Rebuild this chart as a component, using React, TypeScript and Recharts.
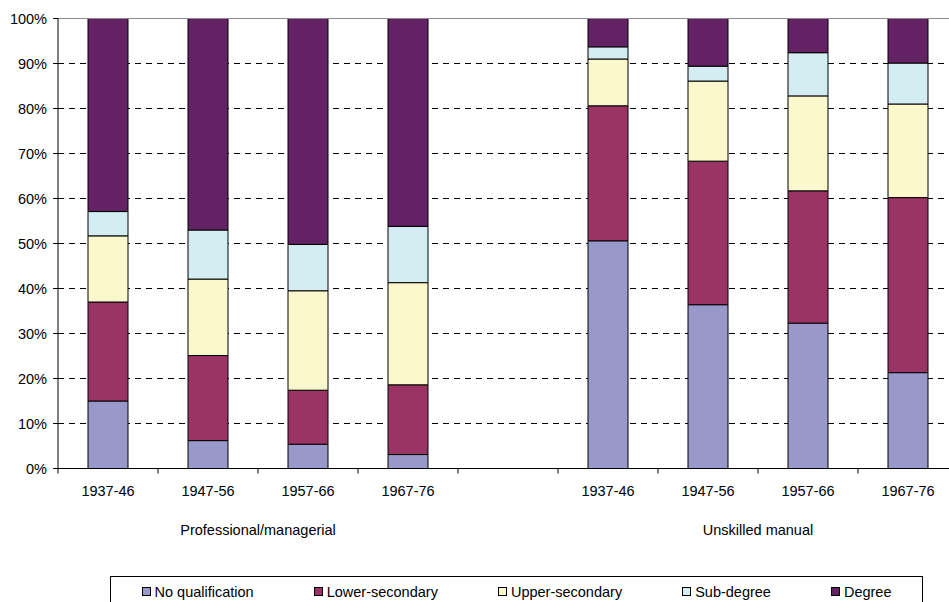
import { BarChart, Bar, XAxis, YAxis, CartesianGrid, Legend, ReferenceLine } from 'recharts';

const FONT = '"Liberation Sans", Arial, Helvetica, sans-serif';

// Birth cohorts, repeated for each occupational class
const COHORTS = ['1937-46', '1947-56', '1957-66', '1967-76'];
const GROUPS = ['Professional/managerial', 'Unskilled manual'];

// Share (%) holding each highest qualification:
// four professional/managerial cohorts, then four unskilled manual cohorts
const NO_QUAL = [15.0, 6.2, 5.4, 3.1, 50.6, 36.4, 32.3, 21.3];
const LOWER_SEC = [22.0, 18.9, 12.0, 15.5, 30.0, 31.9, 29.4, 38.9];
const UPPER_SEC = [14.7, 17.0, 22.1, 22.7, 10.4, 17.8, 21.1, 20.8];
const SUB_DEGREE = [5.4, 10.9, 10.3, 12.5, 2.7, 3.3, 9.6, 9.1];
const DEGREE = [42.9, 47.0, 50.2, 46.2, 6.3, 10.6, 7.6, 9.9];

const Y_TICKS = [0, 10, 20, 30, 40, 50, 60, 70, 80, 90, 100];

const SERIES = [
    { key: 'noQual', name: 'No qualification', color: '#9898CB', values: NO_QUAL },
    { key: 'lowerSec', name: 'Lower-secondary', color: '#9A3465', values: LOWER_SEC },
    { key: 'upperSec', name: 'Upper-secondary', color: '#FBF8CD', values: UPPER_SEC },
    { key: 'subDegree', name: 'Sub-degree', color: '#D4EDF3', values: SUB_DEGREE },
    { key: 'degree', name: 'Degree', color: '#622263', values: DEGREE },
];

// Build rows: 4 professional cohorts, an empty spacer slot, 4 unskilled cohorts
type Row = Record<string, any>;
const rows: Row[] = [];
GROUPS.forEach((group, g) => {
    if (g > 0) rows.push({ key: 'gap', label: '' });
    COHORTS.forEach((cohort, c) => {
        const i = g * COHORTS.length + c;
        const row: Row = { key: `${g}-${cohort}`, label: cohort };
        // group caption sits between the 2nd and 3rd cohort of each block
        if (c === 1) row.group = group;
        SERIES.forEach(s => {
            row[s.key] = s.values[i];
        });
        rows.push(row);
    });
});

const CHART_W = 1000;
const CHART_H = 602;
const MARGIN = { top: 18.5, right: 42, left: 0, bottom: 0 };
const Y_AXIS_W = 58;
const X_AXIS_H = 133.5;
const BAND = (CHART_W - MARGIN.left - MARGIN.right - Y_AXIS_W) / rows.length;

function CohortTick(props: any) {
    const { x, y, payload } = props;
    const index = props.index ?? payload.index;
    const row = rows[index];
    const half = BAND / 2;
    return (
        <g>
            <line x1={x - half} y1={y - 5} x2={x - half} y2={y} stroke="#000" />
            {index === rows.length - 1 && (
                <line x1={x + half} y1={y - 5} x2={x + half} y2={y} stroke="#000" />
            )}
            <text
                x={x}
                y={y + 17}
                textAnchor="middle"
                dominantBaseline="central"
                fontFamily={FONT}
                fontSize={14.5}
                fill="#000"
            >
                {row.label}
            </text>
            {row.group && (
                <text
                    x={x + half}
                    y={y + 56}
                    textAnchor="middle"
                    dominantBaseline="central"
                    fontFamily={FONT}
                    fontSize={14.5}
                    fill="#000"
                >
                    {row.group}
                </text>
            )}
        </g>
    );
}

function LegendBox() {
    return (
        <div
            style={{
                boxSizing: 'border-box',
                width: 813,
                height: 40,
                border: '1px solid #000',
                display: 'flex',
                justifyContent: 'center',
                alignItems: 'flex-start',
                paddingTop: 7,
                gap: 60,
                fontFamily: FONT,
                fontSize: 14.5,
                lineHeight: '16.5px',
                color: '#000',
                background: '#fff',
            }}
        >
            {SERIES.map(s => (
                <div key={s.key} style={{ display: 'flex', alignItems: 'center', whiteSpace: 'nowrap' }}>
                    <span
                        style={{
                            boxSizing: 'border-box',
                            display: 'inline-block',
                            width: 9,
                            height: 9,
                            border: '1.5px solid #000',
                            background: s.color,
                            marginRight: 4,
                        }}
                    />
                    <span>{s.name}</span>
                </div>
            ))}
        </div>
    );
}

export default function App() {
    return (
        <div
            style={{
                position: 'absolute',
                left: 0,
                top: 0,
                width: 949,
                height: 602,
                overflow: 'hidden',
                background: '#fff',
            }}
        >
            <BarChart width={CHART_W} height={CHART_H} data={rows} margin={MARGIN}>
                <CartesianGrid vertical={false} stroke="#000" strokeDasharray="6 5" />
                <XAxis
                    dataKey="key"
                    interval={0}
                    height={X_AXIS_H}
                    tickLine={false}
                    tickSize={5}
                    tickMargin={0}
                    axisLine={{ stroke: '#000' }}
                    tick={<CohortTick />}
                />
                <YAxis
                    width={Y_AXIS_W}
                    domain={[0, 100]}
                    ticks={Y_TICKS}
                    tickFormatter={(v: number) => `${v}%`}
                    axisLine={{ stroke: '#000' }}
                    tickLine={{ stroke: '#000' }}
                    tickSize={5}
                    tickMargin={6}
                    tick={{ fontSize: 14.5, fill: '#000', fontFamily: FONT }}
                />
                <ReferenceLine y={100} stroke="#8a8a8a" />
                {SERIES.map(s => (
                    <Bar
                        key={s.key}
                        dataKey={s.key}
                        name={s.name}
                        stackId="a"
                        fill={s.color}
                        stroke="#000"
                        strokeWidth={1}
                        barSize={40}
                        isAnimationActive={false}
                    />
                ))}
                <Legend
                    layout="horizontal"
                    verticalAlign="middle"
                    content={<LegendBox />}
                    wrapperStyle={{ left: 110, top: 575.5, width: 813, height: 40 }}
                />
            </BarChart>
        </div>
    );
}
